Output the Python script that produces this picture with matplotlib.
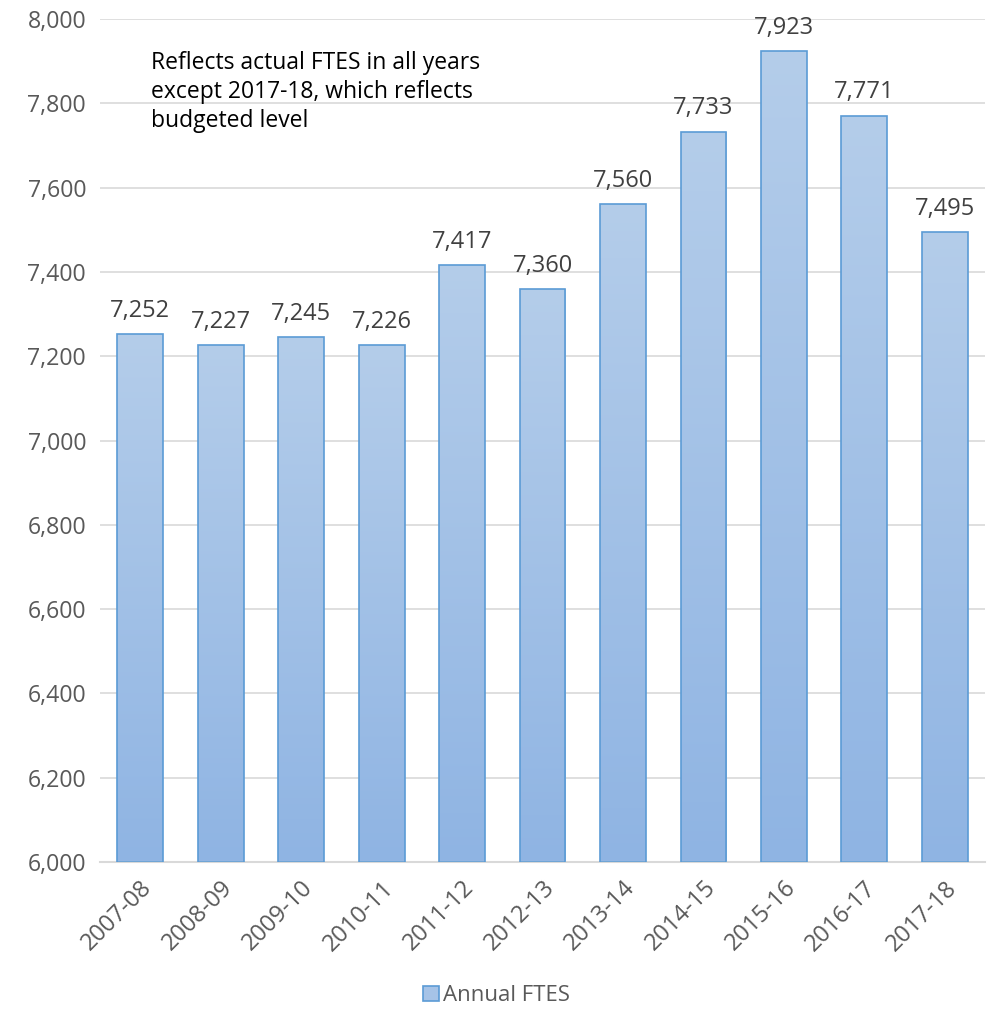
import matplotlib
matplotlib.use("Agg")
import matplotlib.pyplot as plt
import numpy as np
from matplotlib.patches import Rectangle
from matplotlib.ticker import FuncFormatter, MultipleLocator

years = ["2007-08", "2008-09", "2009-10", "2010-11", "2011-12", "2012-13",
         "2013-14", "2014-15", "2015-16", "2016-17", "2017-18"]
ftes = [7252, 7227, 7245, 7226, 7417, 7360, 7560, 7733, 7923, 7771, 7495]
series_name = "Annual FTES"
note = "Reflects actual FTES in all years\nexcept 2017-18, which reflects\nbudgeted level"

plt.rcParams['font.family'] = ['Open Sans', 'DejaVu Sans']

fig = plt.figure(figsize=(9.93, 10.18), dpi=100)
ax = fig.add_axes([0.1007, 0.1532, 0.8913, 0.8281])

ymin, ymax = 6000, 8000
x = np.arange(len(years))
width = 0.57
top_c = np.array([0xb4, 0xcd, 0xea]) / 255
bot_c = np.array([0x8f, 0xb4, 0xe3]) / 255
grad = np.linspace(0, 1, 256)[:, None]
img = top_c[None, None, :] * (1 - grad[:, :, None]) + bot_c[None, None, :] * grad[:, :, None]

bars = ax.bar(x, [v - ymin for v in ftes], width=width, bottom=ymin,
              color='none', edgecolor='#5b9bd5', linewidth=1.2, zorder=3)
for b in bars:
    x0, y0 = b.get_x(), b.get_y()
    w, h = b.get_width(), b.get_height()
    im = ax.imshow(img, extent=(x0, x0 + w, y0, y0 + h), origin='upper',
                   aspect='auto', zorder=2, interpolation='bilinear')
    clip = Rectangle((x0, y0), w, h, transform=ax.transData)
    im.set_clip_path(clip)

for xi, v in zip(x, ftes):
    ax.annotate(f"{v:,}", (xi, v), xytext=(0, 8), textcoords='offset points',
                ha='center', va='bottom', fontsize=17, color='#404040')

ax.set_xlim(-0.5, len(years) - 0.5)
ax.set_ylim(ymin, ymax)
ax.yaxis.set_major_locator(MultipleLocator(200))
ax.yaxis.set_major_formatter(FuncFormatter(lambda v, p: f"{int(v):,}"))
ax.grid(axis='y', color='#d9d9d9', linewidth=1.2, zorder=0)
ax.set_axisbelow(True)
for s in ['top', 'right', 'left']:
    ax.spines[s].set_visible(False)
ax.spines['bottom'].set_color('#d9d9d9')
ax.spines['bottom'].set_linewidth(1.5)
ax.tick_params(axis='y', length=0, labelsize=16.7, colors='#595959', pad=10)
ax.tick_params(axis='x', length=0, labelsize=17, colors='#595959', pad=10)
ax.set_xticks(x)
ax.set_xticklabels(years, rotation=45, ha='right', rotation_mode='anchor')
for lab in ax.get_xticklabels():
    lab.set_x(lab.get_position()[0])

ax.text(0.058, 0.962, note, transform=ax.transAxes, fontsize=16.5,
        color='black', va='top', ha='left', linespacing=1.28)

handle = Rectangle((0, 0), 1, 1, facecolor='#a6c3e7', edgecolor='#5b9bd5', linewidth=1.2)
fig.legend([handle], [series_name], loc='center', bbox_to_anchor=(0.5, 0.022),
           frameon=False, fontsize=16, handlelength=0.7, handleheight=0.7,
           handletextpad=0.2, labelcolor='#595959')

fig.savefig("out.png", dpi=100)
